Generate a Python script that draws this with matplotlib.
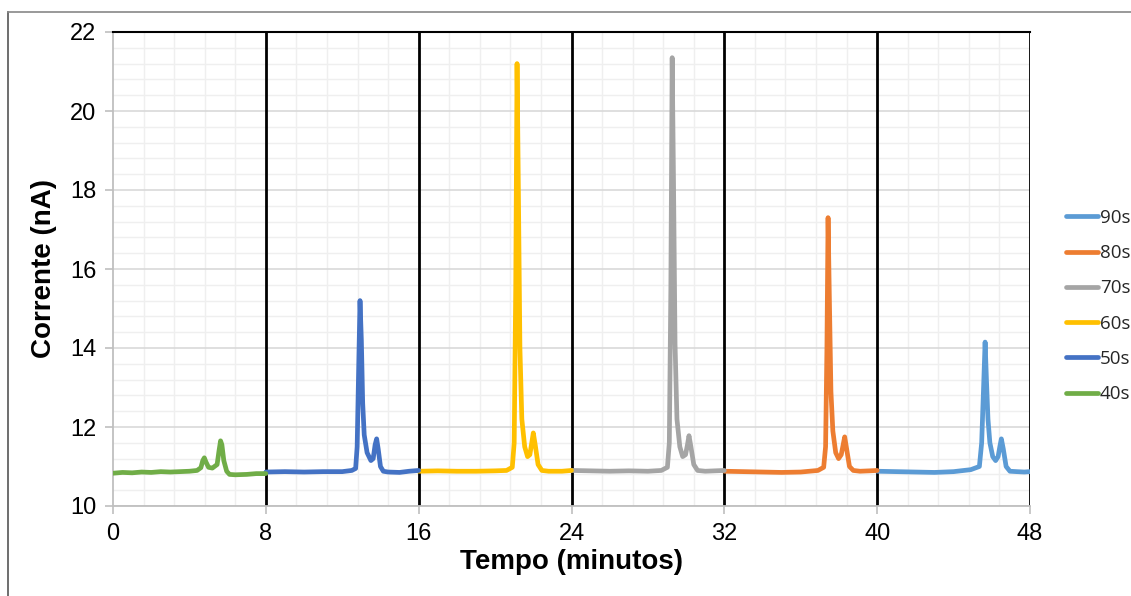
import matplotlib.pyplot as plt
from matplotlib.ticker import MultipleLocator
from matplotlib.lines import Line2D

# readings (tempo em minutos, corrente em nA)
t_40 = [0, 0.5, 1, 1.5, 2, 2.5, 3, 3.5, 4, 4.4, 4.6, 4.7, 4.78, 4.86, 5.0, 5.2, 5.45,
        5.55, 5.63, 5.7, 5.8, 5.95, 6.1, 6.4, 7, 7.5, 8]
i_40 = [10.83, 10.85, 10.84, 10.86, 10.85, 10.87, 10.86, 10.87, 10.88, 10.9, 10.97, 11.15,
        11.22, 11.12, 10.98, 10.96, 11.05, 11.4, 11.65, 11.55, 11.15, 10.88, 10.8, 10.79,
        10.8, 10.82, 10.82]

t_50 = [8, 9, 10, 11, 12, 12.5, 12.7, 12.78, 12.86, 12.93, 13.0, 13.07, 13.15, 13.3, 13.5,
        13.62, 13.72, 13.8, 13.88, 14.0, 14.15, 14.4, 15, 15.5, 16]
i_50 = [10.86, 10.87, 10.86, 10.87, 10.87, 10.9, 10.95, 11.5, 13.5, 15.2, 14.2, 12.6, 11.8,
        11.35, 11.15, 11.2, 11.55, 11.7, 11.45, 11.0, 10.88, 10.86, 10.85, 10.88, 10.9]

t_60 = [16, 17, 18, 19, 20, 20.6, 20.9, 21.0, 21.08, 21.15, 21.22, 21.3, 21.4, 21.55, 21.7,
        21.82, 21.92, 22.0, 22.1, 22.25, 22.45, 22.8, 23.5, 24]
i_60 = [10.88, 10.89, 10.88, 10.88, 10.89, 10.9, 10.98, 11.6, 15.5, 21.2, 18.0, 14.0, 12.2,
        11.5, 11.25, 11.3, 11.6, 11.85, 11.55, 11.05, 10.9, 10.88, 10.88, 10.9]

t_70 = [24, 25, 26, 27, 28, 28.7, 29.02, 29.12, 29.2, 29.27, 29.34, 29.42, 29.52, 29.67,
        29.82, 29.97, 30.07, 30.15, 30.25, 30.4, 30.6, 31, 31.5, 32]
i_70 = [10.9, 10.89, 10.88, 10.89, 10.88, 10.9, 10.98, 11.6, 15.5, 21.35, 18.2, 14.1, 12.2,
        11.5, 11.25, 11.3, 11.55, 11.78, 11.5, 11.05, 10.9, 10.88, 10.89, 10.9]

t_80 = [32, 33, 34, 35, 36, 36.9, 37.2, 37.3, 37.37, 37.43, 37.5, 37.58, 37.68, 37.83,
        37.98, 38.12, 38.22, 38.3, 38.4, 38.55, 38.75, 39.1, 39.6, 40]
i_80 = [10.88, 10.87, 10.86, 10.85, 10.86, 10.9, 10.98, 11.5, 14.0, 17.3, 15.2, 12.9, 11.9,
        11.35, 11.2, 11.3, 11.55, 11.75, 11.45, 11.0, 10.9, 10.88, 10.89, 10.9]

t_90 = [40, 41, 42, 43, 44, 44.9, 45.35, 45.47, 45.57, 45.65, 45.72, 45.8, 45.9, 46.05,
        46.2, 46.33, 46.42, 46.5, 46.6, 46.75, 46.95, 47.3, 47.7, 48]
i_90 = [10.88, 10.87, 10.86, 10.85, 10.87, 10.92, 11.0, 11.6, 13.0, 14.15, 13.2, 12.2, 11.6,
        11.25, 11.15, 11.25, 11.5, 11.7, 11.45, 11.0, 10.88, 10.87, 10.86, 10.87]

labels = ['90s', '80s', '70s', '60s', '50s', '40s']
colors = ['#5B9BD5', '#ED7D31', '#A5A5A5', '#FFC000', '#4472C4', '#70AD47']
series_t = [t_90, t_80, t_70, t_60, t_50, t_40]
series_i = [i_90, i_80, i_70, i_60, i_50, i_40]

plt.rcParams['font.family'] = ['Liberation Sans', 'DejaVu Sans']

fig = plt.figure(figsize=(11.31, 5.96), dpi=100)
ax = fig.add_axes([113 / 1131, 1 - 506 / 596, 917 / 1131, 474 / 596])

handles = []
for t, i, c, lab in zip(series_t, series_i, colors, labels):
    h, = ax.plot(t, i, color=c, lw=3.4, solid_joinstyle='round', solid_capstyle='round',
                 zorder=3, label=lab)
    handles.append(h)

ax.set_xlim(0, 48)
ax.set_ylim(10, 22)
ax.xaxis.set_major_locator(MultipleLocator(8))
ax.xaxis.set_minor_locator(MultipleLocator(1.6))
ax.yaxis.set_major_locator(MultipleLocator(2))
ax.yaxis.set_minor_locator(MultipleLocator(0.4))

ax.grid(which='minor', color='#efefef', lw=1.0, zorder=0)
ax.grid(which='major', axis='y', color='#d9d9d9', lw=1.2, zorder=1)
for xv in range(8, 49, 8):
    ax.axvline(xv, color='black', lw=2.0, zorder=2)

for s in ['left', 'bottom']:
    ax.spines[s].set_color('#bfbfbf')
    ax.spines[s].set_linewidth(1.3)
ax.spines['top'].set_color('black')
ax.spines['top'].set_linewidth(1.5)
ax.spines['right'].set_visible(False)

ax.tick_params(which='major', direction='out', length=6, width=1.2, color='#bfbfbf',
               labelsize=17, pad=6)
ax.tick_params(which='minor', length=0)

ax.set_xlabel('Tempo (minutos)', fontsize=20, fontweight='bold', labelpad=3)
ax.set_ylabel('Corrente (nA)', fontsize=20, fontweight='bold', labelpad=9)

leg = fig.legend(handles=handles, labels=labels, loc='center left',
                 bbox_to_anchor=(1066 / 1131, 1 - 306 / 596), frameon=False,
                 prop={'family': 'Open Sans', 'size': 13.5}, handlelength=1.7,
                 handletextpad=0.1, labelspacing=0.92, borderpad=0, borderaxespad=0)
for txt in leg.get_texts():
    txt.set_color('#262626')

# outer chart border (left and top edges visible in the crop)
fig.add_artist(Line2D([8 / 1131, 8 / 1131], [0, 1 - 12 / 596], color='#555555', lw=1.2))
fig.add_artist(Line2D([8 / 1131, 1], [1 - 12 / 596, 1 - 12 / 596], color='#888888', lw=1.2))

plt.savefig('out.png', dpi=100)
